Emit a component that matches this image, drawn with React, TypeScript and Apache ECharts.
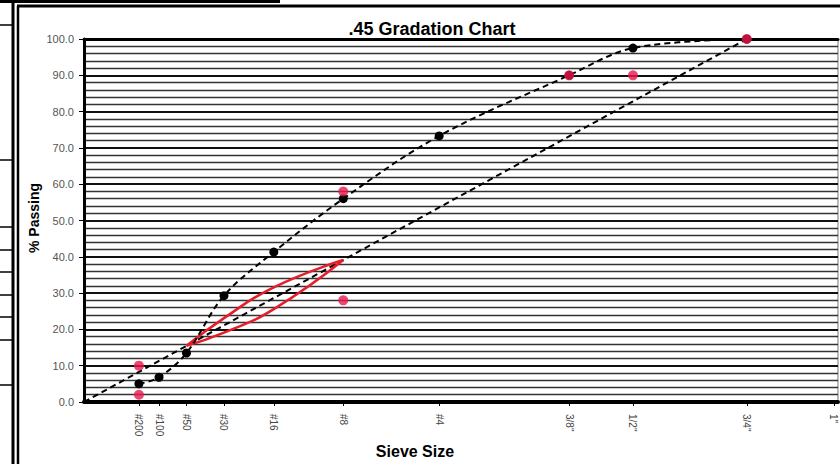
import React, { useEffect, useRef } from "react";
import * as echarts from "echarts";

// Sieve sizes (labels and openings in mm) – x axis is plotted on a 0.45 power scale
const sieveLabels = ['#200', '#100', '#50', '#30', '#16', '#8', '#4', '3/8"', '1/2"', '3/4"', '1"'];
const sieveMm = [0.075, 0.15, 0.3, 0.6, 1.18, 2.36, 4.75, 9.5, 12.5, 19, 25];

// Blend gradation (% passing) per sieve
const blendPassing: (number | null)[] = [5.0, 6.8, 13.5, 29.3, 41.3, 56.0, 73.3, 90.0, 97.5, 100, null];

// Control points
const controlSieves = ['#200', '#200', '#8', '#8', '3/8"', '1/2"', '3/4"'];
const controlValues = [2, 10, 28, 58, 90, 90, 100];

// Restricted zone
const rzSieves = ['#50', '#30', '#16', '#8'];
const rzUpper = [15.5, 23.1, 31.6, 39.1];
const rzLower = [15.5, 19.1, 25.6, 39.1];

// Maximum density line: from origin to nominal max size
const mdlSieve = '3/4"';
const mdlStart = 0;
const mdlEnd = 100;

const yTicks = [0, 10, 20, 30, 40, 50, 60, 70, 80, 90, 100];

const POWER = 0.45;
const pos = (mm: number) => Math.pow(mm, POWER);
const posOf = (label: string) => pos(sieveMm[sieveLabels.indexOf(label)]);
const sievePos = sieveMm.map(pos);

const FONT = "Liberation Sans, Arial, sans-serif";
const RED = "#e8184d";

export default function App() {
  const ref = useRef<HTMLDivElement>(null);
  useEffect(() => {
    if (!ref.current) return;
    const chart = echarts.init(ref.current, undefined, { renderer: "svg" });

    const blendData = sieveLabels
      .map((l, i) => (blendPassing[i] == null ? null : [sievePos[i], blendPassing[i]]))
      .filter((d) => d !== null);
    const controlData = controlSieves.map((l, i) => [posOf(l), controlValues[i]]);
    const upperData = rzSieves.map((l, i) => [posOf(l), rzUpper[i]]);
    const lowerData = rzSieves.map((l, i) => [posOf(l), rzLower[i]]);
    const mdlData = [
      [0, mdlStart],
      [posOf(mdlSieve), mdlEnd],
    ];

    const leftCellLines = [25, 160, 227, 250, 272, 295, 317, 340, 385];

    const option: any = {
      animation: false,
      backgroundColor: "#fff",
      textStyle: { fontFamily: FONT },
      grid: {
        left: 84,
        right: 2,
        top: 39,
        bottom: 62,
        show: true,
        borderColor: "#777",
        borderWidth: 1,
        backgroundColor: "transparent",
      },
      xAxis: [
        {
          type: "value",
          min: 0,
          max: 4.28,
          splitLine: { show: false },
          axisLine: { show: true, onZero: false, lineStyle: { color: "#000", width: 4 } },
          axisTick: {
            show: true,
            customValues: sievePos,
            length: 4,
            lineStyle: { color: "#000", width: 1 },
          },
          axisLabel: {
            show: true,
            customValues: sievePos,
            rotate: -90,
            margin: 12,
            fontSize: 10,
            color: "#444",
            fontFamily: FONT,
            formatter: (v: number) => {
              let best = 0;
              let bd = Infinity;
              sievePos.forEach((p, i) => {
                const d = Math.abs(p - v);
                if (d < bd) {
                  bd = d;
                  best = i;
                }
              });
              return sieveLabels[best];
            },
          },
        },
        {
          type: "value",
          position: "top",
          min: 0,
          max: 4.28,
          splitLine: { show: false },
          axisLine: { show: true, onZero: false, lineStyle: { color: "#000", width: 3 } },
          axisTick: { show: false },
          axisLabel: { show: false },
        },
      ],
      yAxis: {
        type: "value",
        min: 0,
        max: 100,
        interval: 10,
        axisLine: { show: true, onZero: false, lineStyle: { color: "#000", width: 3 } },
        axisTick: { show: true, length: 5, lineStyle: { color: "#000", width: 1 } },
        axisLabel: {
          fontSize: 11,
          color: "#555",
          margin: 10,
          fontFamily: FONT,
          formatter: (v: number) => (yTicks.includes(v) ? v.toFixed(1) : ""),
        },
        splitLine: { show: true, lineStyle: { color: "#111", width: 2 } },
        minorTick: { show: false, splitNumber: 5 },
        minorSplitLine: { show: true, lineStyle: { color: "#333", width: 1.4 } },
      },
      series: [
        {
          name: "Max Density",
          type: "line",
          data: mdlData,
          symbol: "none",
          lineStyle: { color: "#000", width: 2, type: [6, 4] },
          z: 3,
        },
        {
          name: "RZ Upper",
          type: "line",
          data: upperData,
          smooth: 0.5,
          symbol: "none",
          lineStyle: { color: "#e41e2b", width: 2.5 },
          z: 4,
        },
        {
          name: "RZ Lower",
          type: "line",
          data: lowerData,
          smooth: 0.5,
          symbol: "none",
          lineStyle: { color: "#e41e2b", width: 2.5 },
          z: 4,
        },
        {
          name: "Blend",
          type: "line",
          data: blendData,
          smooth: 0.35,
          symbol: "circle",
          symbolSize: 9,
          itemStyle: { color: "#000" },
          lineStyle: { color: "#000", width: 2, type: [6, 4] },
          z: 5,
        },
        {
          name: "Control Points",
          type: "scatter",
          data: controlData,
          symbol: "circle",
          symbolSize: 10,
          itemStyle: { color: RED },
          z: 6,
        },
      ],
      graphic: [
        // spreadsheet surroundings
        { type: "rect", shape: { x: 0, y: 0, width: 280, height: 3 }, style: { fill: "#000" }, silent: true },
        { type: "line", shape: { x1: 13, y1: 0, x2: 13, y2: 464 }, style: { stroke: "#000", lineWidth: 3 }, silent: true },
        { type: "line", shape: { x1: 17, y1: 6, x2: 840, y2: 6 }, style: { stroke: "#000", lineWidth: 3 }, silent: true },
        { type: "line", shape: { x1: 18, y1: 6, x2: 18, y2: 464 }, style: { stroke: "#000", lineWidth: 2.5 }, silent: true },
        ...leftCellLines.map((y) => ({
          type: "line",
          shape: { x1: 0, y1: y, x2: 12, y2: y },
          style: { stroke: "#000", lineWidth: 1.5 },
          silent: true,
        })),
        {
          type: "text",
          x: 432,
          y: 29,
          style: {
            text: ".45 Gradation Chart",
            font: `bold 18px ${FONT}`,
            fill: "#000",
            align: "center",
            verticalAlign: "middle",
          },
        },
        {
          type: "text",
          x: 34,
          y: 218,
          rotation: Math.PI / 2,
          style: {
            text: "% Passing",
            font: `bold 14px ${FONT}`,
            fill: "#000",
            align: "center",
            verticalAlign: "middle",
          },
        },
        {
          type: "text",
          x: 415,
          y: 451,
          style: {
            text: "Sieve Size",
            font: `bold 16px ${FONT}`,
            fill: "#000",
            align: "center",
            verticalAlign: "middle",
          },
        },
      ],
    };

    chart.setOption(option);
    return () => chart.dispose();
  }, []);

  return (
    <div
      ref={ref}
      style={{ position: "fixed", left: 0, top: 0, width: 840, height: 464, background: "#fff" }}
    />
  );
}
